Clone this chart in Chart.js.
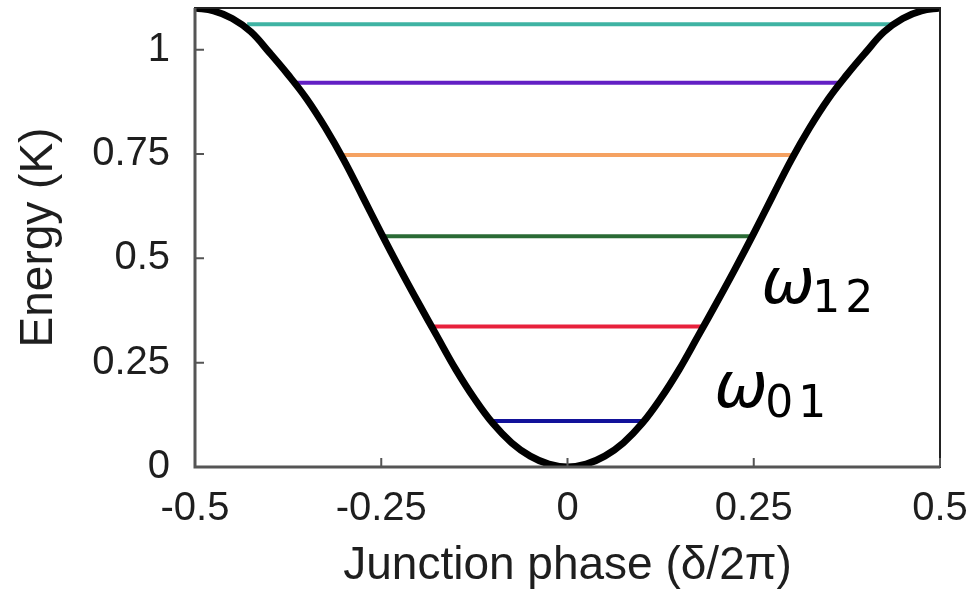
<!DOCTYPE html>
<html>
<head>
<meta charset="utf-8">
<script src="https://cdn.jsdelivr.net/npm/chart.js@4.4.1/dist/chart.umd.min.js"></script>
<style>
  html, body { margin: 0; padding: 0; background: #fff; }
  #wrap { width: 979px; height: 599px; position: relative; }
</style>
</head>
<body>
<div id="wrap"><canvas id="myChart"></canvas></div>
<script>
// potential curve
const phase = [
  -0.5, -0.475, -0.45, -0.425, -0.4, -0.375, -0.35, -0.325, -0.3, -0.275,
  -0.25, -0.225, -0.2, -0.175, -0.15, -0.125, -0.1, -0.075, -0.05, -0.025,
  0,
  0.025, 0.05, 0.075, 0.1, 0.125, 0.15, 0.175, 0.2, 0.225,
  0.25, 0.275, 0.3, 0.325, 0.35, 0.375, 0.4, 0.425, 0.45, 0.475, 0.5
];
const energy = [
  1.1, 1.093, 1.075, 1.043, 0.993, 0.94, 0.882, 0.813, 0.735, 0.648,
  0.56, 0.475, 0.393, 0.313, 0.234, 0.164, 0.104, 0.058, 0.026, 0.007,
  0,
  0.007, 0.026, 0.058, 0.104, 0.164, 0.234, 0.313, 0.393, 0.475,
  0.56, 0.648, 0.735, 0.813, 0.882, 0.94, 0.993, 1.043, 1.075, 1.093, 1.1
];

// energy levels (horizontal lines)
const levelEnergy = [0.11, 0.337, 0.553, 0.748, 0.921, 1.061];
const levelLeft = [-0.103, -0.181, -0.248, -0.302, -0.366, -0.43];
const levelRight = [0.104, 0.183, 0.248, 0.304, 0.366, 0.434];
const levelColors = ['#12129a', '#e8213c', '#2a6b35', '#f5a262', '#6320c4', '#3fb3a3'];

const xTicks = [-0.5, -0.25, 0, 0.25, 0.5];
const yTicks = [0, 0.25, 0.5, 0.75, 1];

const levelSets = levelEnergy.map((e, i) => ({
  label: 'level ' + i,
  data: [{x: levelLeft[i], y: e}, {x: levelRight[i], y: e}],
  borderColor: levelColors[i],
  borderWidth: 4,
  pointRadius: 0,
  order: 2
}));

const curve = {
  label: 'potential',
  data: phase.map((p, i) => ({x: p, y: energy[i]})),
  borderColor: '#000',
  borderWidth: 7,
  pointRadius: 0,
  tension: 0.4,
  order: 1
};

// box, inward ticks and the omega labels
const extras = {
  id: 'extras',
  afterDatasetsDraw(chart) {
    const ctx = chart.ctx;
    const a = chart.chartArea;
    const xs = chart.scales.x, ys = chart.scales.y;
    ctx.save();
    ctx.strokeStyle = '#222';
    ctx.lineWidth = 2;
    ctx.strokeRect(a.left, a.top, a.right - a.left, a.bottom - a.top);
    ctx.strokeStyle = '#555';
    ctx.lineWidth = 3;
    ctx.beginPath();
    ctx.moveTo(a.left, a.top); ctx.lineTo(a.left, a.bottom); ctx.lineTo(a.right, a.bottom);
    ctx.stroke();
    ctx.lineWidth = 2;
    ctx.beginPath();
    yTicks.forEach(v => {
      const y = ys.getPixelForValue(v);
      ctx.moveTo(a.left, y); ctx.lineTo(a.left + 9, y);
    });
    xTicks.forEach(v => {
      const x = xs.getPixelForValue(v);
      ctx.moveTo(x, a.bottom); ctx.lineTo(x, a.bottom - 9);
    });
    ctx.stroke();

    ctx.fillStyle = '#000';
    ctx.textBaseline = 'alphabetic';
    const omega = (x, y, sub, lift) => {
      const px = xs.getPixelForValue(x), py = ys.getPixelForValue(y);
      ctx.font = 'oblique 64px "DejaVu Sans"';
      ctx.fillText('ω', px - 4, py - lift);
      ctx.font = '44px "DejaVu Sans"';
      ctx.letterSpacing = '5px';
      ctx.fillText(sub, px + 47, py);
      ctx.letterSpacing = '0px';
    };
    omega(0.2655, 0.3705, '12', 9);
    omega(0.2023, 0.121, '01', 10);
    ctx.restore();
  }
};

const config = {
  type: 'line',
  data: { datasets: [curve, ...levelSets] },
  options: {
    responsive: true,
    maintainAspectRatio: false,
    animation: false,
    layout: { padding: { top: 8, right: 39, left: 0, bottom: 0 } },
    plugins: { legend: { display: false }, tooltip: { enabled: false } },
    scales: {
      x: {
        type: 'linear',
        min: -0.5,
        max: 0.5,
        grid: { display: false },
        border: { display: false },
        afterBuildTicks: s => { s.ticks = xTicks.map(v => ({value: v})); },
        afterFit: s => { s.height = 132; s.paddingLeft = 0; s.paddingRight = 0; },
        ticks: {
          padding: 10,
          maxRotation: 0,
          color: '#1e1e1e',
          font: { family: '"Liberation Sans", Arial, sans-serif', size: 40 },
          callback: v => String(v)
        },
        title: {
          display: true,
          text: 'Junction phase (δ/2π)',
          color: '#1e1e1e',
          padding: { top: 0, bottom: 5 },
          font: { family: '"Liberation Sans", Arial, sans-serif', size: 46 }
        }
      },
      y: {
        min: 0,
        max: 1.1,
        grid: { display: false },
        border: { display: false },
        afterBuildTicks: s => { s.ticks = yTicks.map(v => ({value: v})); },
        afterFit: s => { s.width = 195; s.paddingTop = 0; s.paddingBottom = 0; },
        ticks: {
          padding: 17,
          color: '#1e1e1e',
          font: { family: '"Liberation Sans", Arial, sans-serif', size: 40 },
          callback: v => String(v)
        },
        title: {
          display: true,
          text: 'Energy (K)',
          color: '#1e1e1e',
          padding: { top: 12, bottom: 0 },
          font: { family: '"Liberation Sans", Arial, sans-serif', size: 46 }
        }
      }
    }
  },
  plugins: [extras]
};

const myChart = new Chart(document.getElementById('myChart'), config);
</script>
</body>
</html>
